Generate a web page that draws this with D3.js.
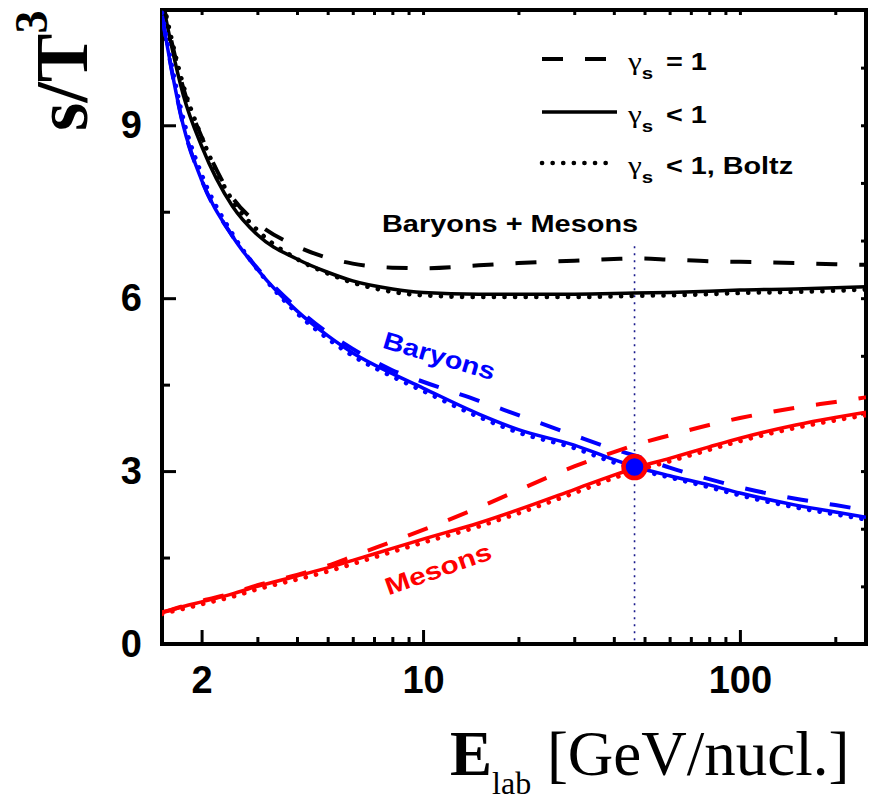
<!DOCTYPE html>
<html>
<head>
<meta charset="utf-8">
<script src="https://cdn.jsdelivr.net/npm/d3@7"></script>
<style>
  body { margin: 0; background: #fff; }
  svg { display: block; }
</style>
</head>
<body>
<svg></svg>
<script>

// energies (GeV/nucl.) where curves are read
var energy = [1.5, 1.6, 1.75, 2, 2.5, 3, 4, 5, 6, 8, 10, 15, 20, 30, 40, 46.5, 60, 80, 100, 150, 200, 250];

// Baryons + Mesons
var totalGs1    = [11.2, 10.5, 9.65, 8.8, 7.75, 7.3, 6.9, 6.7, 6.6, 6.53, 6.52, 6.57, 6.61, 6.65, 6.68, 6.69, 6.67, 6.64, 6.63, 6.61, 6.59, 6.58];
var totalGsLt1  = [11.2, 10.43, 9.53, 8.64, 7.6, 7.1, 6.68, 6.45, 6.3, 6.16, 6.1, 6.07, 6.07, 6.07, 6.08, 6.09, 6.1, 6.12, 6.14, 6.16, 6.18, 6.2];
var totalBoltz  = [11.25, 10.55, 9.7, 8.8, 7.7, 7.18, 6.68, 6.43, 6.27, 6.11, 6.05, 6.02, 6.02, 6.02, 6.03, 6.04, 6.05, 6.07, 6.09, 6.11, 6.13, 6.15];

// Baryons
var baryonGs1   = [10.9, 10.03, 9.0, 8.05, 7.08, 6.52, 5.83, 5.4, 5.12, 4.75, 4.55, 4.22, 3.97, 3.62, 3.38, 3.27, 3.06, 2.86, 2.72, 2.52, 2.41, 2.32];
var baryonGsLt1 = [10.9, 10.03, 9.0, 8.05, 7.08, 6.5, 5.78, 5.35, 5.05, 4.69, 4.44, 3.99, 3.72, 3.45, 3.2, 3.08, 2.92, 2.76, 2.62, 2.41, 2.29, 2.2];
var baryonBoltz = [10.95, 10.12, 9.12, 8.15, 7.12, 6.5, 5.74, 5.3, 5.0, 4.64, 4.39, 3.94, 3.67, 3.4, 3.15, 3.04, 2.89, 2.72, 2.58, 2.37, 2.25, 2.16];

// Mesons
var mesonGs1    = [0.55, 0.59, 0.66, 0.75, 0.88, 1.02, 1.2, 1.36, 1.52, 1.78, 1.98, 2.37, 2.67, 3.08, 3.33, 3.45, 3.62, 3.8, 3.92, 4.1, 4.2, 4.28];
var mesonGsLt1  = [0.55, 0.59, 0.65, 0.73, 0.87, 1.0, 1.18, 1.32, 1.45, 1.66, 1.82, 2.1, 2.33, 2.68, 2.93, 3.05, 3.22, 3.42, 3.57, 3.8, 3.93, 4.02];
var mesonBoltz  = [0.52, 0.56, 0.61, 0.69, 0.82, 0.95, 1.12, 1.26, 1.39, 1.6, 1.76, 2.04, 2.27, 2.62, 2.88, 3.0, 3.17, 3.37, 3.52, 3.75, 3.88, 3.97];

// crossing point
var crossE = 46.5, crossS = 3.07;

// ticks
var xMajor = [2, 10, 100];
var xMinor = [3, 4, 5, 6, 7, 8, 9, 20, 30, 40, 50, 60, 70, 80, 90, 200];
var yMajor = [0, 3, 6, 9];
var yMinor = [1.5, 4.5, 7.5, 10.5];
var yRight = [0, 1, 2, 3, 4, 5, 6, 7, 8, 9, 10, 11];

var margin = {top: 10, right: 17, bottom: 160, left: 162},
    width = 883 - margin.left - margin.right,
    height = 804 - margin.top - margin.bottom;

var svg = d3.select("svg")
    .attr("width", 883)
    .attr("height", 804);

var g = svg.append("g")
    .attr("transform", "translate(" + margin.left + "," + margin.top + ")");

var x = d3.scaleLog().domain([1.5, 250]).range([0, width]);
var y = d3.scaleLinear().domain([0, 11]).range([height, 0]);

var sans = "'Liberation Sans', Arial, sans-serif";
var serif = "'Liberation Serif', 'Times New Roman', serif";

svg.append("defs").append("clipPath").attr("id", "plot")
  .append("rect").attr("width", width).attr("height", height);

function styleAxis(sel) {
  sel.select(".domain").remove();
  sel.selectAll(".tick line").attr("stroke", "#000").attr("stroke-width", 3);
  sel.selectAll(".tick text")
      .style("font-family", sans)
      .style("font-weight", "bold")
      .style("font-size", "38px")
      .attr("fill", "#000");
}

// bottom axis
g.append("g")
    .attr("transform", "translate(0," + height + ")")
    .call(d3.axisBottom(x).tickValues(xMajor).tickSize(-14).tickPadding(22).tickFormat(d3.format("d")))
    .call(styleAxis);
g.append("g")
    .attr("transform", "translate(0," + height + ")")
    .call(d3.axisBottom(x).tickValues(xMinor).tickSize(-7).tickFormat(""))
    .call(styleAxis);

// top axis
g.append("g")
    .call(d3.axisTop(x).tickValues(xMajor.concat(xMinor)).tickSize(-5).tickFormat(""))
    .call(styleAxis);

// left axis
g.append("g")
    .call(d3.axisLeft(y).tickValues(yMajor).tickSize(-14).tickPadding(20).tickFormat(d3.format("d")))
    .call(styleAxis);
g.append("g")
    .call(d3.axisLeft(y).tickValues(yMinor).tickSize(-8).tickFormat(""))
    .call(styleAxis);

// right axis
g.append("g")
    .attr("transform", "translate(" + width + ",0)")
    .call(d3.axisRight(y).tickValues(yRight).tickSize(-5).tickFormat(""))
    .call(styleAxis);

// frame
g.append("rect")
    .attr("width", width)
    .attr("height", height)
    .attr("fill", "none")
    .attr("stroke", "#000")
    .attr("stroke-width", 4);

var line = d3.line()
    .x(function(d) { return x(d[0]); })
    .y(function(d) { return y(d[1]); })
    .curve(d3.curveMonotoneX);

var styles = {
  dash:  {dasharray: "21,22", cap: "butt", w: 4},
  solid: {dasharray: null, cap: "butt", w: 3.5},
  dot:   {dasharray: "0.1,10.5", cap: "round", w: 4.6}
};

var curves = [
  {values: totalGs1, color: "#000", style: "dash"},
  {values: totalBoltz, color: "#000", style: "dot"},
  {values: totalGsLt1, color: "#000", style: "solid"},
  {values: baryonGs1, color: "#0000ff", style: "dash"},
  {values: baryonBoltz, color: "#0000ff", style: "dot"},
  {values: baryonGsLt1, color: "#0000ff", style: "solid"},
  {values: mesonGs1, color: "#ff0000", style: "dash"},
  {values: mesonBoltz, color: "#ff0000", style: "dot"},
  {values: mesonGsLt1, color: "#ff0000", style: "solid"}
];

// vertical dotted marker line
g.append("line")
    .attr("x1", x(crossE)).attr("x2", x(crossE))
    .attr("y1", y(6.9)).attr("y2", y(0))
    .attr("stroke", "#1a1a8c")
    .attr("stroke-width", 1.6)
    .attr("stroke-dasharray", "2,5");

var plot = g.append("g").attr("clip-path", "url(#plot)");

curves.forEach(function(c) {
  var st = styles[c.style];
  plot.append("path")
      .datum(energy.map(function(e, i) { return [e, c.values[i]]; }))
      .attr("d", line)
      .attr("fill", "none")
      .attr("stroke", c.color)
      .attr("stroke-width", st.w)
      .attr("stroke-linecap", st.cap)
      .attr("stroke-dasharray", st.dasharray);
});

g.append("circle")
    .attr("cx", x(crossE))
    .attr("cy", y(crossS))
    .attr("r", 11)
    .attr("fill", "#0000ff")
    .attr("stroke", "#ff0000")
    .attr("stroke-width", 4.5);

// legend
var legend = [
  {style: "dash", rest: " = 1", y: 59},
  {style: "solid", rest: " < 1", y: 112},
  {style: "dot", rest: " < 1, Boltz", y: 163}
];

legend.forEach(function(d) {
  var st = styles[d.style];
  svg.append("line")
      .attr("x1", 542).attr("x2", d.style === "solid" ? 617 : 614)
      .attr("y1", d.y).attr("y2", d.y)
      .attr("stroke", "#000")
      .attr("stroke-width", st.w)
      .attr("stroke-linecap", st.cap)
      .attr("stroke-dasharray", st.dasharray);
  var t = svg.append("text")
      .attr("transform", "translate(628," + (d.y + 11) + ") scale(1.2,1)")
      .style("font-family", sans)
      .style("font-weight", "bold")
      .style("font-size", "24px");
  t.append("tspan").text("γ")
      .style("font-family", serif)
      .style("font-weight", "normal")
      .style("font-size", "26px");
  t.append("tspan").text("s").attr("dy", 9).style("font-size", "17px");
  t.append("tspan").text(d.rest).attr("dy", -9).attr("dx", 4);
});

// curve labels
svg.append("text")
    .attr("transform", "translate(382,232) scale(1.18,1)")
    .style("font-family", sans).style("font-weight", "bold").style("font-size", "24.5px")
    .attr("fill", "#000")
    .text("Baryons + Mesons");

svg.append("text")
    .attr("transform", "translate(437,364) rotate(16.5) scale(1.18,1)")
    .attr("text-anchor", "middle")
    .style("font-family", sans).style("font-weight", "bold").style("font-size", "24.5px")
    .attr("fill", "#0000ff")
    .text("Baryons");

svg.append("text")
    .attr("transform", "translate(441,577) rotate(-19.5) scale(1.22,1)")
    .attr("text-anchor", "middle")
    .style("font-family", sans).style("font-weight", "bold").style("font-size", "24.5px")
    .attr("fill", "#ff0000")
    .text("Mesons");

// axis titles
var yt = svg.append("text")
    .attr("transform", "translate(87,131) rotate(-90)")
    .style("font-family", serif).style("font-weight", "bold").style("font-size", "73px");
yt.append("tspan").text("s/T");
yt.append("tspan").text("3").attr("dy", -40).style("font-size", "46px");

var xt = svg.append("text")
    .attr("x", 450).attr("y", 775)
    .style("font-family", serif).style("font-size", "63px");
xt.append("tspan").text("E").style("font-weight", "bold");
xt.append("tspan").text("lab").attr("dy", 19).style("font-size", "32px");
xt.append("tspan").text(" [GeV/nucl.]").attr("dy", -19);

</script>
</body>
</html>
